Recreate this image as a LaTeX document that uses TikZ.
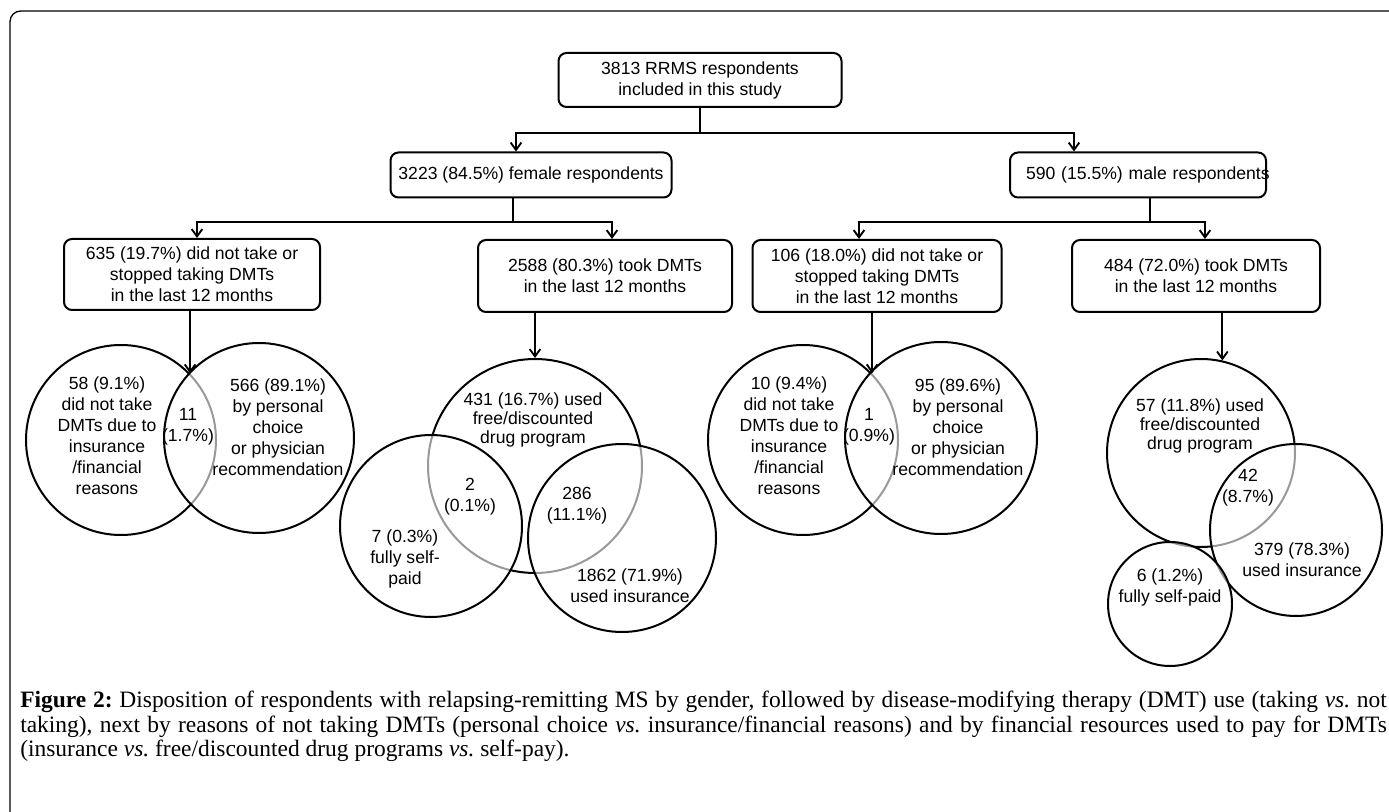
\documentclass[tikz,border=0pt]{standalone}
\usepackage{fontspec}
\setmainfont{Liberation Serif}
\setsansfont{Liberation Sans}
\usetikzlibrary{arrows.meta}
\hyphenpenalty=10000
\tikzset{every picture/.style={/utils/exec={\sffamily}}}
\tikzset{
  box/.style={draw, line width=1.5pt, rounded corners=6pt, align=center, inner sep=0pt,
    font=\sffamily\fontsize{13.2}{15.8}\selectfont},
  venn/.style={draw, circle, line width=1.5pt, inner sep=0pt},
  over/.style={venn, fill=white, fill opacity=0.6},
  lbl/.style={align=center, inner sep=0pt, font=\sffamily\fontsize{13.2}{15.8}\selectfont},
  lbltight/.style={lbl, font=\sffamily\fontsize{13.2}{14.2}\selectfont},
  link/.style={line width=1.4pt},
}

\begin{document}
\begin{tikzpicture}[x=0.75pt, y=-0.75pt, >={Straight Barb[length=5.5pt,width=8pt]}]
  \useasboundingbox (0,0) rectangle (1389,812);
  \draw[line width=1pt, rounded corners=8pt] (10,11) rectangle (1430,860);

  % boxes
  \node[box, minimum width=212.25pt, minimum height=40.5pt] (top) at (700,80) {3813 RRMS respondents\\included in this study};
  \node[box, minimum width=210.75pt, minimum height=33.75pt] (fem) at (531,175) {3223 (84.5\%) female respondents};
  \node[box, minimum height=33.75pt, text width=168pt, inner xsep=12pt, align=left] (male) at (1138,175) {\mbox{590 (15.5\%) male respondents}};
  \node[box, minimum width=192pt, minimum height=53.25pt] (fnot) at (192,274.5) {635 (19.7\%) did not take or\\stopped taking DMTs\\in the last 12 months};
  \node[box, minimum width=190.5pt, minimum height=54pt] (ftake) at (605,276) {2588 (80.3\%) took DMTs\\in the last 12 months};
  \node[box, minimum width=186.75pt, minimum height=54pt] (mnot) at (877,276) {106 (18.0\%) did not take or\\stopped taking DMTs\\in the last 12 months};
  \node[box, minimum width=186pt, minimum height=54pt] (mtake) at (1196,276) {484 (72.0\%) took DMTs\\in the last 12 months};

  % circles
  \node[venn, minimum size=142.5pt] (fl) at (121,440) {};
  \node[over, minimum size=142.5pt] (fr) at (259,438) {};
  \node[venn, minimum size=160.5pt] (fdrug) at (535,466) {};
  \node[over, minimum size=136.5pt] (fself) at (431,526) {};
  \node[over, minimum size=141pt] (fins) at (622,538) {};
  \node[venn, minimum size=142.5pt] (ml) at (803,440) {};
  \node[over, minimum size=144pt] (mr) at (941,438) {};
  \node[venn, minimum size=141pt] (mdrug) at (1201,453) {};
  \node[over, minimum size=129pt] (mins) at (1296,530) {};
  \node[over, minimum size=93pt] (mself) at (1170,604) {};

  % connectors
  \draw[link] (top.south) -- (top.south |- 0,133) coordinate (tsplit);
  \draw[link,->] (tsplit) -| (516,0 |- fem.north);
  \draw[link,->] (tsplit) -| (1074,0 |- male.north);
  \draw[link] (513,0 |- fem.south) -- (513,222) coordinate (fsplit);
  \draw[link,->] (fsplit) -| (197,0 |- fnot.north);
  \draw[link,->] (fsplit) -| (612,0 |- ftake.north);
  \draw[link] (1150,0 |- male.south) -- (1150,222) coordinate (msplit);
  \draw[link,->] (msplit) -| (859,0 |- mnot.north);
  \draw[link,->] (msplit) -| (1205,0 |- mtake.north);
  \draw[link,->] (fnot.south -| fl.44) -- (fl.44);
  \draw[link,->] (ftake.south -| fdrug.north) -- (fdrug.north);
  \draw[link,->] (mnot.south -| ml.44) -- (ml.44);
  \draw[link,->] (mtake.south -| mdrug.77) -- (mdrug.77);

  % circle labels
  \node[lbl] (flt) at (107,436) {58 (9.1\%)\\did not take\\DMTs due to\\insurance\\/financial\\reasons};
  \node[lbl] (fbt) at (188,427) {11\\(1.7\%)};
  \node[lbl] (frt) at (278,427) {566 (89.1\%)\\by personal\\choice\\or physician\\recommendation};
  \node[lbltight] (fdt) at (533,420) {431 (16.7\%) used\\free/discounted\\drug program};
  \node[lbl] (fdst) at (470,497) {2\\(0.1\%)};
  \node[lbl] (fdit) at (577,506) {286\\(11.1\%)};
  \node[lbl] (fst) at (405,559) {7 (0.3\%)\\fully self-\\paid};
  \node[lbl] (fit) at (630,586) {1862 (71.9\%)\\used insurance};
  \node[lbl] (mlt) at (789,436) {10 (9.4\%)\\did not take\\DMTs due to\\insurance\\/financial\\reasons};
  \node[lbl] (mbt) at (869,427) {1\\(0.9\%)};
  \node[lbl] (mrt) at (958,427) {95 (89.6\%)\\by personal\\choice\\or physician\\recommendation};
  \node[lbltight] (mdt) at (1200,426) {57 (11.8\%) used\\free/discounted\\drug program};
  \node[lbl] (mdit) at (1248,488) {42\\(8.7\%)};
  \node[lbl] (mit) at (1302,560) {379 (78.3\%)\\used insurance};
  \node[lbl] (mst) at (1170,587) {6 (1.2\%)\\fully self-paid};

  % caption
  \node[anchor=north west, inner sep=0pt, text width=1025pt, align=justify,
    font=\rmfamily\frenchspacing\fontsize{17.6}{18.4}\selectfont] (cap) at (20,691)
    {\textbf{Figure 2:} Disposition of respondents with relapsing-remitting MS by gender, followed by disease-modifying therapy (DMT) use (taking \textit{vs.} not\linebreak
    taking), next by reasons of not taking DMTs (personal choice \textit{vs.} insurance/financial reasons) and by financial resources used to pay for DMTs\linebreak
    (insurance \textit{vs.} free/discounted drug programs \textit{vs.} self-pay).};
\end{tikzpicture}
\end{document}
